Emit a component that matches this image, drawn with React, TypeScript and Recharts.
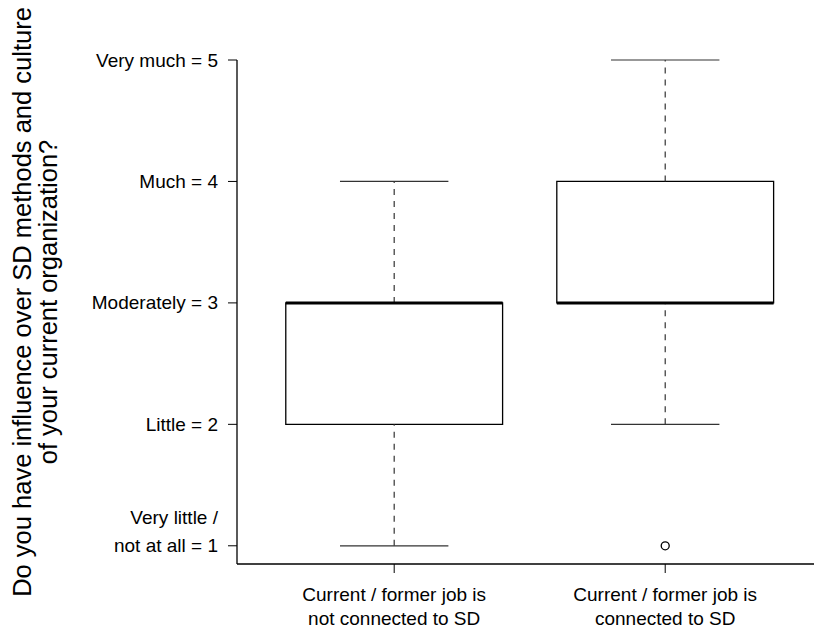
import React from 'react';
import {
  ComposedChart,
  XAxis,
  YAxis,
  ReferenceArea,
  ReferenceLine,
  Scatter
} from 'recharts';

const FONT = '"Liberation Sans", Arial, Helvetica, sans-serif';

// boxplot stats per group
const groupPos = [1, 2];
const groupLabels = [
  ['Current / former job is', 'not connected to SD'],
  ['Current / former job is', 'connected to SD'],
];
const whiskerLow = [1, 2];
const quart1 = [2, 3];
const medians = [3, 3];
const quart3 = [3, 4];
const whiskerHigh = [4, 5];
const outliers = [[], [1]];

const yTicks = [1, 2, 3, 4, 5];
const yTickLabels = [
  ['Very little /', 'not at all = 1'],
  ['Little = 2'],
  ['Moderately = 3'],
  ['Much = 4'],
  ['Very much = 5'],
];
const yTitle = ['Do you have influence over SD methods and culture', 'of your current organization?'];

const BOX_HALF = 0.4;
const CAP_HALF = 0.2;

const outlierPoints = outliers.flatMap((vals, i) => vals.map((v) => ({ x: groupPos[i], y: v })));

const YTick = (props: any) => {
  const { x, y, payload } = props;
  const lines = yTickLabels[yTicks.indexOf(payload.value)] ?? [String(payload.value)];
  return (
    <text x={x} y={y} textAnchor="end" fontFamily={FONT} fontSize={19} fill="#000">
      {lines.map((l, i) => (
        <tspan key={i} x={x} dy={i === 0 ? -(lines.length - 1) * 28 + 6.5 : 28}>
          {l}
        </tspan>
      ))}
    </text>
  );
};

const XTick = (props: any) => {
  const { x, y, payload } = props;
  const lines = groupLabels[groupPos.indexOf(payload.value)] ?? [String(payload.value)];
  return (
    <text x={x} y={y} textAnchor="middle" fontFamily={FONT} fontSize={19} fill="#000">
      {lines.map((l, i) => (
        <tspan key={i} x={x} dy={i === 0 ? 28 : 24}>
          {l}
        </tspan>
      ))}
    </text>
  );
};

const YTitle = (props: any) => {
  const vb = props.viewBox || { x: 0, y: 60, width: 237, height: 504 };
  const cx = vb.x + 31;
  const cy = 302;
  return (
    <text
      x={cx}
      y={cy}
      transform={`rotate(-90, ${cx}, ${cy})`}
      textAnchor="middle"
      fontFamily={FONT}
      fontSize={25.5}
      fill="#000"
    >
      {yTitle.map((l, i) => (
        <tspan key={i} x={cx} dy={i === 0 ? 0 : 26}>
          {l}
        </tspan>
      ))}
    </text>
  );
};

const OutlierDot = (props: any) => (
  <circle cx={props.cx} cy={props.cy} r={4} fill="none" stroke="#000" strokeWidth={1.3} />
);

export default function App() {
  return (
    <div style={{ position: 'absolute', left: 0, top: 0, width: 814, height: 628, background: '#fff' }}>
      <ComposedChart width={814} height={628} margin={{ top: 60, right: 0, bottom: 0, left: 0 }}>
        <XAxis
          type="number"
          dataKey="x"
          domain={[0.42, 2.549]}
          allowDataOverflow
          ticks={groupPos}
          interval={0}
          height={64}
          tickSize={9}
          tickMargin={0}
          axisLine={{ stroke: '#000', strokeWidth: 1.3 }}
          tickLine={{ stroke: '#000', strokeWidth: 1 }}
          tick={<XTick />}
        />
        <YAxis
          type="number"
          dataKey="y"
          domain={[0.85, 5]}
          allowDataOverflow
          ticks={yTicks}
          interval={0}
          width={237}
          tickSize={9}
          tickMargin={10}
          axisLine={{ stroke: '#000', strokeWidth: 1.3 }}
          tickLine={{ stroke: '#000', strokeWidth: 1 }}
          tick={<YTick />}
          label={{ content: <YTitle /> }}
        />
        {groupPos.map((p, i) => (
          <ReferenceLine
            key={`wl${i}`}
            segment={[{ x: p, y: whiskerLow[i] }, { x: p, y: quart1[i] }]}
            stroke="#333"
            strokeWidth={1.2}
            strokeDasharray="6 6"
            ifOverflow="visible"
          />
        ))}
        {groupPos.map((p, i) => (
          <ReferenceLine
            key={`wh${i}`}
            segment={[{ x: p, y: quart3[i] }, { x: p, y: whiskerHigh[i] }]}
            stroke="#333"
            strokeWidth={1.2}
            strokeDasharray="6 6"
            ifOverflow="visible"
          />
        ))}
        {groupPos.map((p, i) => (
          <ReferenceLine
            key={`cl${i}`}
            segment={[{ x: p - CAP_HALF, y: whiskerLow[i] }, { x: p + CAP_HALF, y: whiskerLow[i] }]}
            stroke="#333"
            strokeWidth={1.2}
            ifOverflow="visible"
          />
        ))}
        {groupPos.map((p, i) => (
          <ReferenceLine
            key={`ch${i}`}
            segment={[{ x: p - CAP_HALF, y: whiskerHigh[i] }, { x: p + CAP_HALF, y: whiskerHigh[i] }]}
            stroke="#333"
            strokeWidth={1.2}
            ifOverflow="visible"
          />
        ))}
        {groupPos.map((p, i) => (
          <ReferenceArea
            key={`box${i}`}
            x1={p - BOX_HALF}
            x2={p + BOX_HALF}
            y1={quart1[i]}
            y2={quart3[i]}
            fill="#fff"
            fillOpacity={1}
            stroke="#000"
            strokeWidth={1.3}
            ifOverflow="visible"
          />
        ))}
        {groupPos.map((p, i) => (
          <ReferenceLine
            key={`med${i}`}
            segment={[{ x: p - BOX_HALF, y: medians[i] }, { x: p + BOX_HALF, y: medians[i] }]}
            stroke="#000"
            strokeWidth={3}
            ifOverflow="visible"
          />
        ))}
        <Scatter data={outlierPoints} dataKey="y" shape={<OutlierDot />} isAnimationActive={false} />
      </ComposedChart>
    </div>
  );
}
